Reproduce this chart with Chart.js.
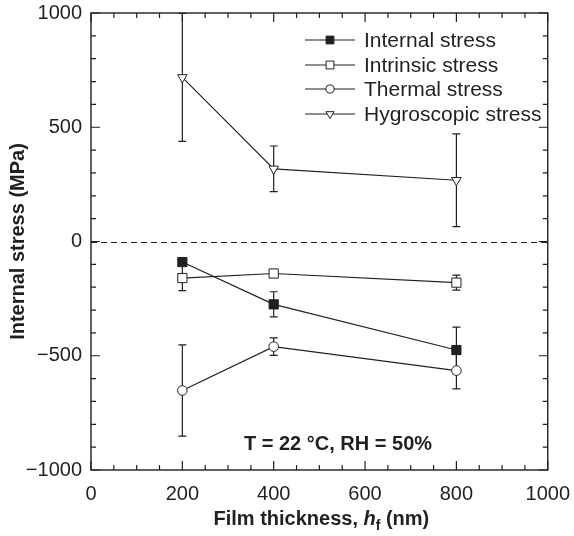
<!DOCTYPE html>
<html>
<head>
<meta charset="utf-8">
<script src="https://cdn.jsdelivr.net/npm/chart.js@4.4.0/dist/chart.umd.min.js"></script>
<style>
    html, body { margin: 0; padding: 0; background: #fff; }
    #contenedor { width: 574px; height: 536px; }
</style>
</head>
<body>
<div id="contenedor"><canvas id="graficoEsfuerzos" width="574" height="536"></canvas></div>
<script>
// espesor de película (nm)
const espesores = [200, 400, 800];

const internalStress = [-90, -275, -475];
const internalErr = [0, 55, 100];
const intrinsicStress = [-160, -140, -180];
const intrinsicErr = [55, 0, 33];
const thermalStress = [-652, -460, -565];
const thermalErr = [200, 38, 80];
const hygroStress = [718, 318, 268];
const hygroErr = [280, 100, 203];

const xTicks = [0, 200, 400, 600, 800, 1000];
const yTicks = [-1000, -500, 0, 500, 1000];
const xMinor = 50;
const yMinor = 100;

const nombres = ['Internal stress', 'Intrinsic stress', 'Thermal stress', 'Hygroscopic stress'];
const errores = [internalErr, intrinsicErr, thermalErr, hygroErr];

const INK = '#231f20';
const FUENTE = '"Liberation Sans", Arial, sans-serif';

function serie(label, valores, estilo) {
    return Object.assign({
        label: label,
        data: espesores.map((x, i) => ({ x: x, y: valores[i] })),
        borderColor: INK,
        borderWidth: 1.2,
        pointBorderColor: INK,
        pointBorderWidth: 1,
        pointBackgroundColor: '#fff',
        tension: 0,
        fill: false
    }, estilo);
}

const datasets = [
    serie(nombres[0], internalStress, { pointStyle: 'rect', pointRadius: 6.5, pointBackgroundColor: INK }),
    serie(nombres[1], intrinsicStress, { pointStyle: 'rect', pointRadius: 6.5 }),
    serie(nombres[2], thermalStress, { pointStyle: 'circle', pointRadius: 4.8 }),
    serie(nombres[3], hygroStress, { pointStyle: 'triangle', pointRadius: 5.5, pointRotation: 180 })
];

const marcoPlugin = {
    id: 'marco',
    beforeDatasetsDraw(chart) {
        const { ctx, chartArea: a, scales } = chart;
        const sx = scales.x, sy = scales.y;
        ctx.save();
        ctx.strokeStyle = INK;

        // línea punteada en cero
        ctx.lineWidth = 1;
        ctx.setLineDash([6, 4]);
        const y0 = Math.round(sy.getPixelForValue(0)) + 0.5;
        ctx.beginPath();
        ctx.moveTo(a.left, y0);
        ctx.lineTo(a.right, y0);
        ctx.stroke();
        ctx.setLineDash([]);

        // ticks hacia adentro en los 4 lados
        ctx.lineWidth = 1.2;
        ctx.beginPath();
        for (let v = sx.min; v <= sx.max; v += xMinor) {
            const px = sx.getPixelForValue(v);
            const len = xTicks.includes(v) ? 9 : 5;
            ctx.moveTo(px, a.bottom); ctx.lineTo(px, a.bottom - len);
            ctx.moveTo(px, a.top); ctx.lineTo(px, a.top + len);
        }
        for (let v = sy.min; v <= sy.max; v += yMinor) {
            const py = sy.getPixelForValue(v);
            const len = yTicks.includes(v) ? 9 : 5;
            ctx.moveTo(a.left, py); ctx.lineTo(a.left + len, py);
            ctx.moveTo(a.right, py); ctx.lineTo(a.right - len, py);
        }
        ctx.stroke();

        // marco
        ctx.lineWidth = 1.4;
        ctx.strokeRect(a.left, a.top, a.right - a.left, a.bottom - a.top);

        // barras de error
        ctx.lineWidth = 1.2;
        chart.data.datasets.forEach((ds, d) => {
            ds.data.forEach((p, i) => {
                const e = errores[d][i];
                if (!e) return;
                const px = sx.getPixelForValue(p.x);
                const top = sy.getPixelForValue(p.y + e);
                const bot = sy.getPixelForValue(p.y - e);
                ctx.beginPath();
                ctx.moveTo(px, top); ctx.lineTo(px, bot);
                ctx.moveTo(px - 4, top); ctx.lineTo(px + 4, top);
                ctx.moveTo(px - 4, bot); ctx.lineTo(px + 4, bot);
                ctx.stroke();
            });
        });
        ctx.restore();
    },
    afterDraw(chart) {
        const { ctx, chartArea: a } = chart;
        ctx.save();
        ctx.fillStyle = INK;
        ctx.strokeStyle = INK;

        // leyenda
        const filas = [40, 65, 89, 114];
        chart.data.datasets.forEach((ds, d) => {
            const y = filas[d];
            ctx.lineWidth = 1.2;
            ctx.beginPath();
            ctx.moveTo(305, y); ctx.lineTo(355, y);
            ctx.stroke();
            ctx.fillStyle = ds.pointBackgroundColor;
            ctx.lineWidth = 1;
            Chart.helpers.drawPoint(ctx, {
                pointStyle: ds.pointStyle,
                radius: ds.pointRadius * 0.85,
                rotation: ds.pointRotation || 0,
                borderWidth: 1
            }, 330, y);
            ctx.fillStyle = INK;
            ctx.font = '21px ' + FUENTE;
            ctx.textAlign = 'left';
            ctx.textBaseline = 'middle';
            ctx.fillText(ds.label, 364, y + 1);
        });

        // anotación
        ctx.font = 'bold 20px ' + FUENTE;
        ctx.textAlign = 'center';
        ctx.textBaseline = 'alphabetic';
        ctx.fillText('T = 22 °C, RH = 50%', 338, 450);

        // título eje x con h en cursiva y f subíndice
        const partes = [
            { t: 'Film thickness, ', f: 'bold 20px ' + FUENTE, dy: 0 },
            { t: 'h', f: 'bold italic 20px ' + FUENTE, dy: 0 },
            { t: 'f', f: 'bold 14px ' + FUENTE, dy: 5 },
            { t: ' (nm)', f: 'bold 20px ' + FUENTE, dy: 0 }
        ];
        let total = 0;
        partes.forEach(p => { ctx.font = p.f; p.w = ctx.measureText(p.t).width; total += p.w; });
        let x = (a.left + a.right) / 2 + 2 - total / 2;
        ctx.textAlign = 'left';
        partes.forEach(p => {
            ctx.font = p.f;
            ctx.fillText(p.t, x, 525 + p.dy);
            x += p.w;
        });
        ctx.restore();
    }
};

const fmt = v => (v < 0 ? '\u2212' + Math.abs(v) : String(v));

new Chart(document.getElementById('graficoEsfuerzos'), {
    type: 'line',
    data: { datasets: datasets },
    options: {
        responsive: false,
        animation: false,
        devicePixelRatio: 1,
        layout: { padding: { top: 12, right: 26, bottom: 0, left: 0 } },
        plugins: {
            legend: { display: false },
            tooltip: { enabled: false }
        },
        scales: {
            x: {
                type: 'linear',
                min: 0,
                max: 1000,
                afterBuildTicks: s => { s.ticks = xTicks.map(v => ({ value: v })); },
                ticks: { callback: fmt, color: INK, font: { size: 20, family: FUENTE }, padding: 4, maxRotation: 0 },
                grid: { display: false },
                border: { display: false },
                afterFit: s => { s.height = 66; }
            },
            y: {
                type: 'linear',
                min: -1000,
                max: 1000,
                afterBuildTicks: s => { s.ticks = yTicks.map(v => ({ value: v })); },
                ticks: { callback: fmt, color: INK, font: { size: 20, family: FUENTE }, padding: 1 },
                grid: { display: false },
                border: { display: false },
                title: {
                    display: true,
                    text: 'Internal stress (MPa)',
                    color: INK,
                    font: { size: 20, weight: 'bold', family: FUENTE },
                    padding: { top: 6, bottom: 0 }
                },
                afterFit: s => { s.width = 91; }
            }
        }
    },
    plugins: [marcoPlugin]
});
</script>
</body>
</html>
